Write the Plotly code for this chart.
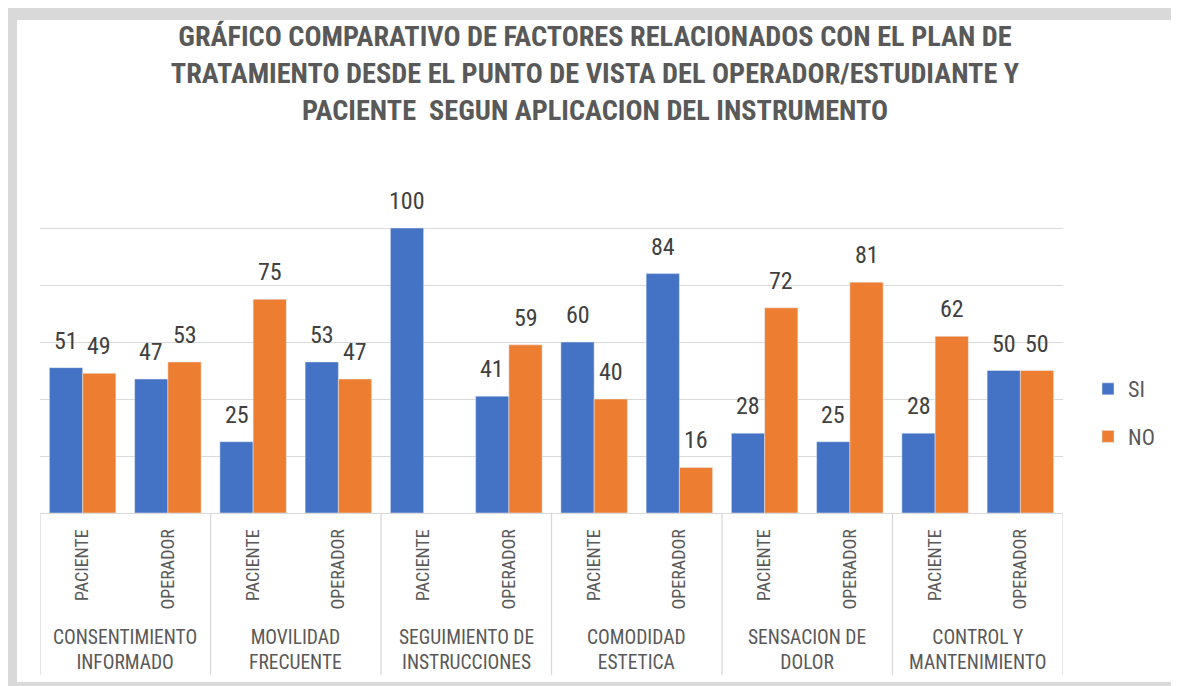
import plotly.graph_objects as go

groups = ["CONSENTIMIENTO<br>INFORMADO", "MOVILIDAD<br>FRECUENTE", "SEGUIMIENTO DE<br>INSTRUCCIONES",
          "COMODIDAD<br>ESTETICA", "SENSACION DE<br>DOLOR", "CONTROL Y<br>MANTENIMIENTO"]
subcats = ["PACIENTE", "OPERADOR"]
si_values = [51, 47, 25, 53, 100, 41, 60, 84, 28, 25, 28, 50]
no_values = [49, 53, 75, 47, None, 59, 40, 16, 72, 81, 62, 50]

FONT = "Liberation Sans Narrow, Arial Narrow, Roboto Condensed, Liberation Sans, sans-serif"
GRAY = "#595959"
LINE = "#d9d9d9"

n = len(si_values)
xs = list(range(n))
tick_text = [subcats[i % 2] for i in range(n)]
BW = 0.39

fig = go.Figure()
fig.add_trace(go.Bar(x=xs, y=si_values, name="SI", marker_color="#4472C4", width=BW, offset=-BW,
                     legendgroup="a"))
fig.add_trace(go.Bar(x=xs, y=no_values, name="NO", marker_color="#ED7D31", width=BW, offset=0,
                     legendgroup="b"))

ann = []
for i in range(n):
    for v, dx in ((si_values[i], -BW / 2), (no_values[i], BW / 2)):
        if v is None:
            continue
        ann.append(dict(x=i + dx, y=v, xref="x", yref="y", text=str(v), showarrow=False,
                        yanchor="middle", yshift=27, font=dict(family=FONT, size=24, color="#404040")))
for g, label in enumerate(groups):
    ann.append(dict(x=2 * g + 0.5, y=-0.402, xref="x", yref="paper", text=label, showarrow=False,
                    yanchor="middle", font=dict(family=FONT, size=19.5, color=GRAY)))

# page pixel -> paper helpers (plot area 40..1063 x, 171..513 y in page pixels)
def px(p):
    return (p - 40) / 1023.0

def py(p):
    return (513 - p) / 342.0

shapes = [
    dict(type="rect", xref="paper", yref="paper", x0=px(5), x1=px(1195), y0=py(700), y1=py(7),
         fillcolor=LINE, line=dict(width=0), layer="below"),
    dict(type="rect", xref="paper", yref="paper", x0=px(17), x1=px(1177), y0=py(682), y1=py(20),
         fillcolor="white", line=dict(width=0), layer="below"),
]
for k in range(len(groups) + 1):
    shapes.append(dict(type="line", xref="x", yref="paper", x0=2 * k - 0.5, x1=2 * k - 0.5,
                       y0=0, y1=py(675), line=dict(color=LINE, width=1.3)))

W, H = 1171, 678  # page body has an 8px margin
fig.update_layout(
    width=W, height=H,
    margin=dict(l=32, r=W - (1063 - 8), t=163, b=H - (513 - 8)),
    paper_bgcolor="white", plot_bgcolor="rgba(0,0,0,0)",
    barmode="group",
    title=dict(text="GRÁFICO COMPARATIVO DE FACTORES RELACIONADOS CON EL PLAN DE<br>"
                    "TRATAMIENTO DESDE EL PUNTO DE VISTA DEL OPERADOR/ESTUDIANTE Y<br>"
                    "PACIENTE  SEGUN APLICACION DEL INSTRUMENTO",
               x=(595 - 8) / W, xref="container", xanchor="center", y=0.944, yref="container",
               yanchor="middle",
               font=dict(family=FONT, size=28.3, color=GRAY, weight="bold")),
    xaxis=dict(range=[-0.5, n - 0.5], tickvals=xs, ticktext=tick_text, tickangle=-90,
               ticks="outside", ticklen=8, tickcolor="rgba(0,0,0,0)", showgrid=False, zeroline=False,
               showline=False, tickfont=dict(family=FONT, size=18, color=GRAY)),
    yaxis=dict(range=[0, 120], dtick=20, showticklabels=False, showgrid=True, gridcolor=LINE,
               gridwidth=1.3, zeroline=True, zerolinecolor=LINE, zerolinewidth=1.3),
    legend=dict(x=px(1088), y=py(413), xanchor="left", yanchor="middle", tracegroupgap=16,
                font=dict(family=FONT, size=22, color=GRAY), itemwidth=30),
    annotations=ann,
    shapes=shapes,
    showlegend=True,
)

fig.write_html("out.html")
